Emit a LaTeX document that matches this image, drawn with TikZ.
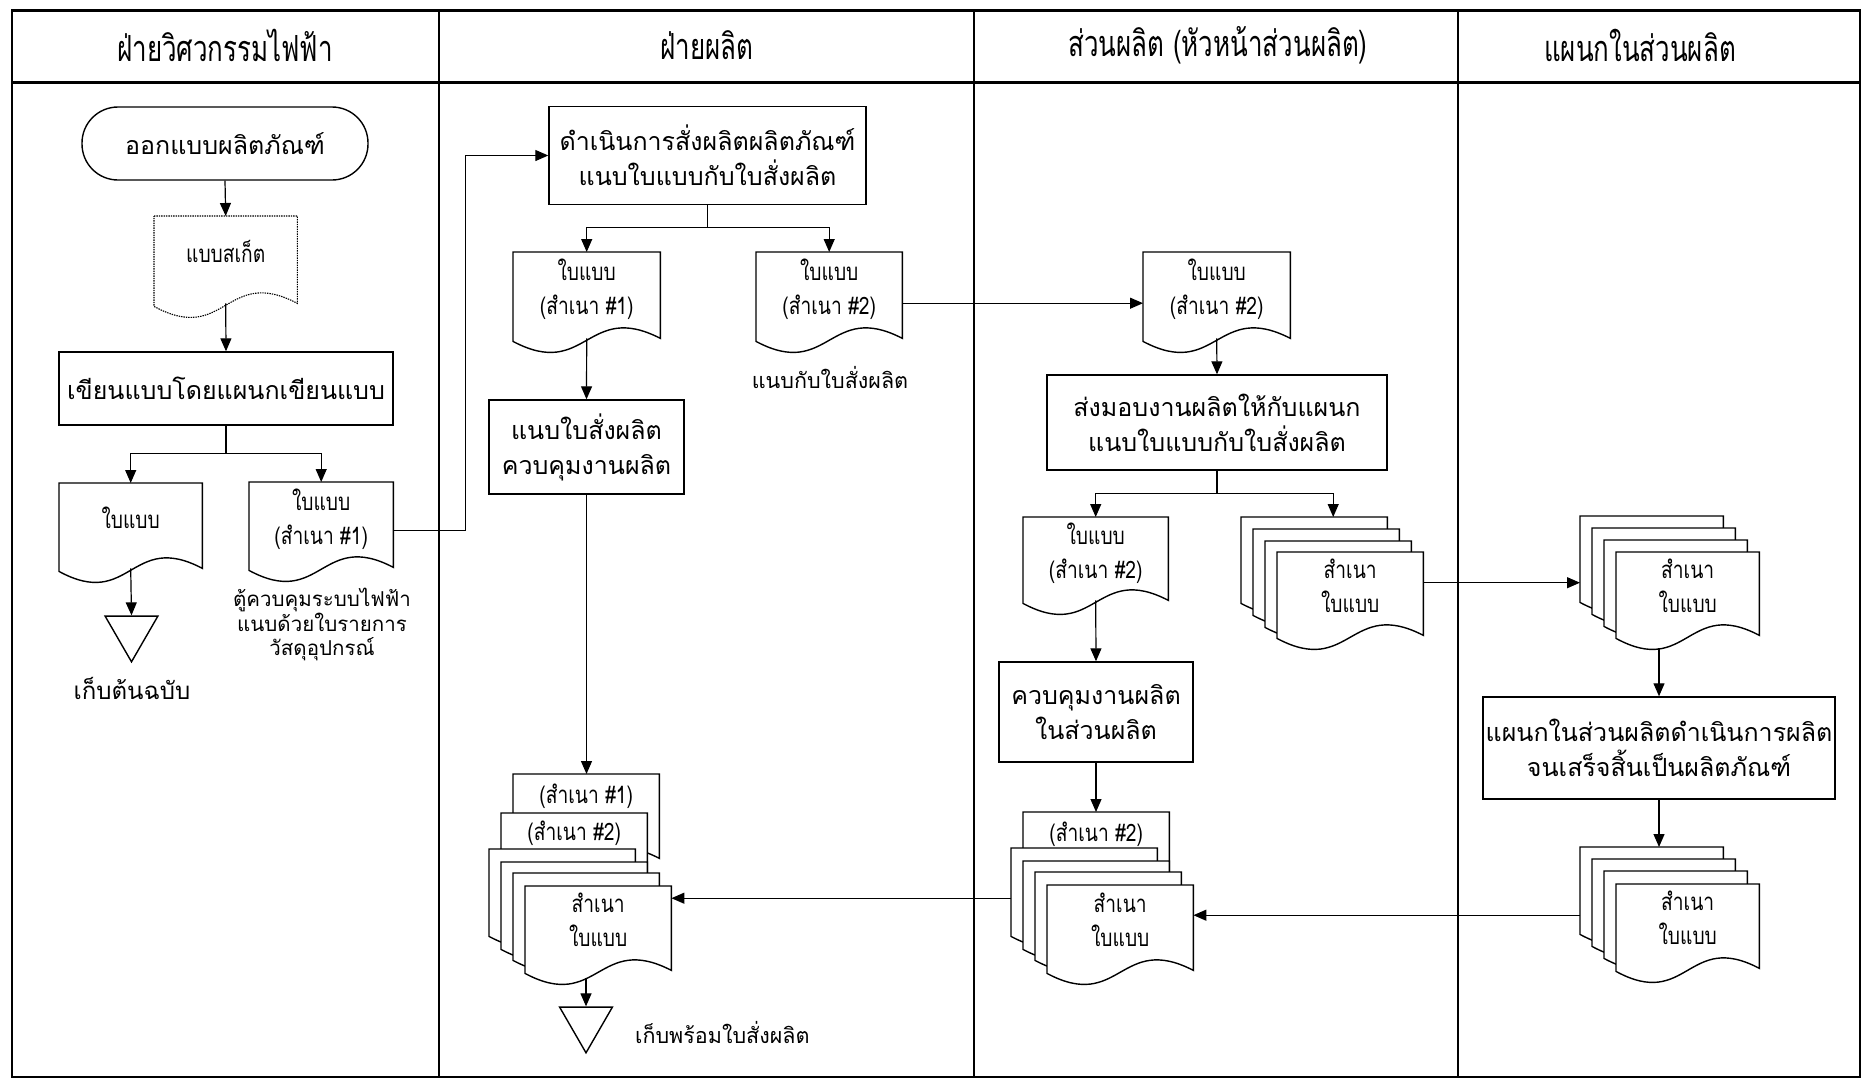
\documentclass[tikz,border=0pt]{standalone}
\usepackage{fontspec}
\newfontfamily\loopfont[Script=Thai]{Loma}
\newfontfamily\narrowfont[Script=Thai,FakeStretch=0.8]{Loma}
\newfontfamily\headfont[Script=Thai,FakeStretch=0.72]{Loma}
\usetikzlibrary{arrows.meta,calc,backgrounds,shapes.geometric}

% document symbol: flat top, wavy bottom around the node's south edge
\newcommand\docoutline[2][]{%
  \path[docline,#1] (#2.north west) -- (#2.north east) -- (#2.south east)
    .. controls ($(#2.south)+(0,-38)$) and ($(#2.south)+(0,42)$) ..
    ($(#2.south west)+(0,3)$) -- cycle;}

\tikzset{
  frame/.style={line width=2.2pt},
  headrule/.style={line width=3pt},
  procbox/.style={draw, line width=1.4pt, fill=white, inner sep=2pt, align=center,
    font=\loopfont\fontsize{25}{35}\selectfont},
  term/.style={procbox, rounded corners=36pt},
  docnode/.style={draw=none, inner sep=0pt, anchor=north west, align=center,
    minimum width=146, minimum height=85, font=\narrowfont\fontsize{24}{34}\selectfont,
    execute at end node={\rule[-16pt]{0pt}{16pt}}},
  stacknode/.style={docnode},
  doclabel/.style={inner sep=0pt, anchor=north, font=\narrowfont\fontsize{24}{30}\selectfont},
  docline/.style={draw, line width=1.4pt, fill=white},
  note/.style={inner sep=0pt, align=center, font=\loopfont\fontsize{21.5}{25}\selectfont},
  headtext/.style={inner sep=0pt, font=\headfont\fontsize{36}{40}\selectfont},
  store/.style={draw, line width=1.4pt, regular polygon, regular polygon sides=3,
    shape border rotate=180, minimum size=61pt, inner sep=0pt},
  arrow/.style={draw, line width=1.2pt, -{Triangle[length=13pt,width=11pt]}},
  link/.style={draw, line width=1.2pt},
}

\begin{document}
\begin{tikzpicture}[x=1pt, y=-1pt]
\useasboundingbox (0,0) rectangle (1862,1079);

% ---------- lane headers ----------
\node[headtext] (h1) at (225,45) {ฝ่ายวิศวกรรมไฟฟ้า};
\node[headtext] (h2) at (707,45) {ฝ่ายผลิต};
\node[headtext] (h3) at (1218,45) {ส่วนผลิต (หัวหน้าส่วนผลิต)};
\node[headtext] (h4) at (1640,45) {แผนกในส่วนผลิต};

% ---------- lane 1: electrical engineering ----------
\node[term, minimum width=286, minimum height=73] (start) at (225,143.5) {ออกแบบผลิตภัณฑ์};
\node[docnode, minimum width=143, minimum height=87] (sketch) at (154,216) {แบบสเก็ต};
\node[procbox, minimum width=334, minimum height=73] (write) at (226,388.5) {เขียนแบบโดยแผนกเขียนแบบ};
\node[docnode, minimum width=143] (orig) at (59,483) {ใบแบบ};
\node[docnode, minimum width=144] (copy1) at (249,482) {ใบแบบ\\(สำเนา \#1)};
\node[note, anchor=north, font=\loopfont\fontsize{20.5}{24.5}\selectfont] (cabinet) at (322,588) {ตู้ควบคุมระบบไฟฟ้า\\แนบด้วยใบรายการ\\วัสดุอุปกรณ์};
\node[store] (store1) at (131.5,631.3) {};
\node[note, font=\loopfont\fontsize{24}{28}\selectfont] (keep1) at (132,688) {เก็บต้นฉบับ};

% ---------- lane 2: production department ----------
\node[procbox, minimum width=317, minimum height=98] (order) at (707.5,155.5) {ดำเนินการสั่งผลิตผลิตภัณฑ์\\แนบใบแบบกับใบสั่งผลิต};
\node[docnode, minimum width=147, minimum height=86] (p1) at (513,252) {ใบแบบ\\(สำเนา \#1)};
\node[docnode, minimum width=146, minimum height=86] (p2) at (756,252) {ใบแบบ\\(สำเนา \#2)};
\node[note] (attach) at (830,377) {แนบกับใบสั่งผลิต};
\node[procbox, minimum width=195, minimum height=94] (control1) at (586.5,447) {แนบใบสั่งผลิต\\ควบคุมงานผลิต};
% stacked copies
\node[stacknode, minimum height=84] (s1) at (513,774) {};
\node[stacknode, minimum height=84] (s2) at (501,813) {};
\node[stacknode, minimum height=84] (s3) at (489,849) {};
\node[stacknode, minimum height=84] (s4) at (501,862) {};
\node[stacknode, minimum height=84] (s5) at (513,873) {};
\node[stacknode, minimum height=84] (s6) at (525,886) {สำเนา\\ใบแบบ};
\node[doclabel] (s1lab) at ($(s1.north)+(0,10)$) {(สำเนา \#1)};
\node[doclabel] (s2lab) at ($(s2.north)+(0,8)$) {(สำเนา \#2)};
\node[store] (store2) at (586,1022.3) {};
\node[note, anchor=west] (keep2) at (635,1032) {เก็บพร้อมใบสั่งผลิต};

% ---------- lane 3: production section (head) ----------
\node[docnode, minimum width=147, minimum height=86] (q1) at (1143,252) {ใบแบบ\\(สำเนา \#2)};
\node[procbox, minimum width=340, minimum height=95] (assign) at (1217,422.5) {ส่งมอบงานผลิตให้กับแผนก\\แนบใบแบบกับใบสั่งผลิต};
\node[docnode, minimum width=145, minimum height=83] (q2) at (1023,517) {ใบแบบ\\(สำเนา \#2)};
\node[stacknode, minimum height=83] (a1) at (1241,517) {};
\node[stacknode, minimum height=83] (a2) at (1253,529) {};
\node[stacknode, minimum height=83] (a3) at (1265,541) {};
\node[stacknode, minimum height=83] (a4) at (1277,552) {สำเนา\\ใบแบบ};
\node[procbox, minimum width=194, minimum height=100] (control2) at (1096,712) {ควบคุมงานผลิต\\ในส่วนผลิต};
\node[stacknode, minimum height=85] (b1) at (1023,812) {};
\node[stacknode, minimum height=85] (b2) at (1011,848) {};
\node[stacknode, minimum height=85] (b3) at (1023,861) {};
\node[stacknode, minimum height=85] (b4) at (1035,872) {};
\node[stacknode, minimum height=85] (b5) at (1047,885) {สำเนา\\ใบแบบ};
\node[doclabel] (b1lab) at ($(b1.north)+(0,10)$) {(สำเนา \#2)};

% ---------- lane 4: units within the section ----------
\node[stacknode, minimum width=143, minimum height=83] (c1) at (1580,516) {};
\node[stacknode, minimum width=143, minimum height=83] (c2) at (1592,528) {};
\node[stacknode, minimum width=143, minimum height=83] (c3) at (1604,540) {};
\node[stacknode, minimum width=143, minimum height=83] (c4) at (1616,552) {สำเนา\\ใบแบบ};
\node[procbox, minimum width=352, minimum height=102] (produce) at (1659,748) {แผนกในส่วนผลิตดำเนินการผลิต\\จนเสร็จสิ้นเป็นผลิตภัณฑ์};
\node[stacknode, minimum width=143, minimum height=84] (d1) at (1580,847) {};
\node[stacknode, minimum width=143, minimum height=84] (d2) at (1592,859) {};
\node[stacknode, minimum width=143, minimum height=84] (d3) at (1604,871) {};
\node[stacknode, minimum width=143, minimum height=84] (d4) at (1616,884) {สำเนา\\ใบแบบ};

% ---------- swimlane frame and document symbols ----------
\begin{scope}[on background layer]
  \draw[frame] (12,10) rectangle (1860,1077);
  \draw[headrule] (12,10) -- (1860,10);
  \draw[headrule] (12,82) -- (1860,82);
  \draw[frame] (439,10) -- (439,1077);
  \draw[frame] (974,10) -- (974,1077);
  \draw[frame] (1458,10) -- (1458,1077);
  \docoutline[densely dotted, line width=1.1pt]{sketch}
  \docoutline{orig}
  \docoutline{copy1}
  \docoutline{p1}
  \docoutline{p2}
  \foreach \d in {s1,s2,s3,s4,s5,s6} {\docoutline{\d}}
  \docoutline{q1}
  \docoutline{q2}
  \foreach \d in {a1,a2,a3,a4} {\docoutline{\d}}
  \foreach \d in {b1,b2,b3,b4,b5} {\docoutline{\d}}
  \foreach \d in {c1,c2,c3,c4} {\docoutline{\d}}
  \foreach \d in {d1,d2,d3,d4} {\docoutline{\d}}
\end{scope}

% ---------- connectors ----------
% lane 1
\draw[arrow] (start.south) -- (sketch.north);
\draw[arrow] (sketch.south) -- (write.north);
\coordinate (j1) at ($(write.south)+(0,28)$);
\draw[link] (write.south) -- (j1);
\draw[arrow] (j1) -| (orig.north);
\draw[arrow] (j1) -| (copy1.north);
\draw[arrow] (orig.south) -- (store1.north);
\draw[arrow] ([yshift=-6pt]copy1.east) -- ++(72,0) |- (order.west);

% lane 2
\coordinate (j2) at ($(order.south)+(0,22)$);
\draw[link] (order.south) -- (j2);
\draw[arrow] (j2) -| (p1.north);
\draw[arrow] (j2) -| (p2.north);
\draw[arrow] (p1.south) -- (control1.north);
\draw[arrow] ([yshift=-8pt]p2.east) -- ([yshift=-8pt]q1.west);
\draw[arrow] (control1.south) -- (control1.south |- s1.north);
\draw[arrow] ($(store2.north |- s6.south)+(0,8)$) -- (store2.north);

% lane 3
\draw[arrow] (q1.south) -- (assign.north);
\coordinate (j3) at ($(assign.south)+(0,23)$);
\draw[link] (assign.south) -- (j3);
\draw[arrow] (j3) -| (q2.north);
\draw[arrow] (j3) -| ([xshift=19pt]a1.north);
\draw[arrow] (q2.south) -- (control2.north);
\draw[arrow] (control2.south) -- (control2.south |- b1.north);
\coordinate (s6in) at ($(s6.east)+(0,-30)$);
\draw[arrow] (b2.west |- s6in) -- (s6in);
\draw[arrow] ([yshift=11pt]a4.east) -- ([yshift=11pt]a4.east -| c1.west);

% lane 4
\draw[arrow] ($(produce.north |- c4.south)+(0,13)$) -- (produce.north);
\draw[arrow] (produce.south) -- (produce.south |- d1.north);
\coordinate (b5in) at ($(b5.east)+(0,-12.5)$);
\draw[arrow] (d1.west |- b5in) -- (b5in);
\end{tikzpicture}
\end{document}
